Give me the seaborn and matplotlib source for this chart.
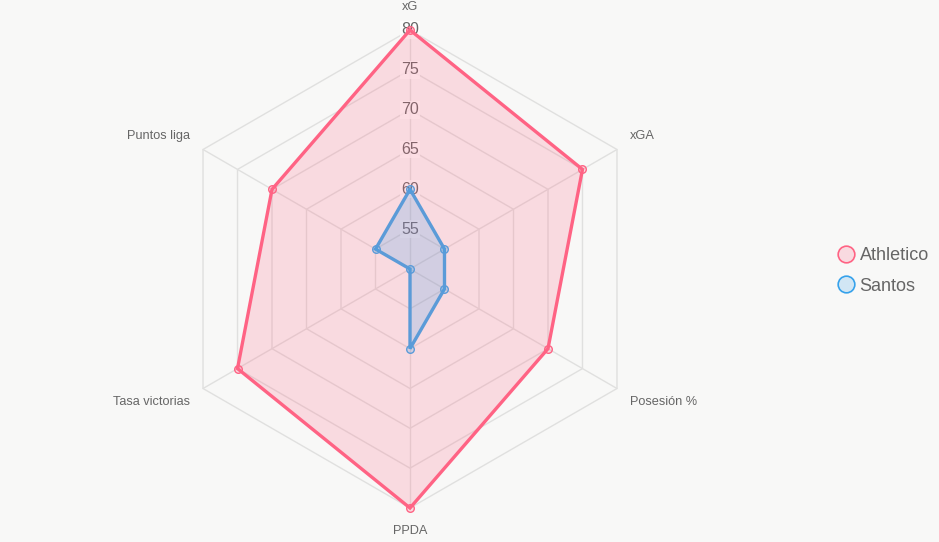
import numpy as np
import pandas as pd
import seaborn as sns
import matplotlib.pyplot as plt
from matplotlib.lines import Line2D
from matplotlib.colors import to_rgba

categories = ["xG", "xGA", "Posesión %", "PPDA", "Tasa victorias", "Puntos liga"]
athletico = [80, 75, 70, 80, 75, 70]
santos = [60, 55, 55, 60, 50, 55]
tick_values = [55, 60, 65, 70, 75, 80]
series_names = ["Athletico", "Santos"]
r_min, r_max = 50, 80

bg = "#f8f8f7"
red = "#ff6384"
blue_line = "#5b9bd8"
blue_legend = "#36a2eb"
txt = "#666666"
grid = "#e0e0df"

sns.set_theme(style="white")
plt.rcParams['font.family'] = ['Liberation Sans', 'DejaVu Sans']

W, H = 939, 542
cx, cy, R = 410, 269, 239
fig = plt.figure(figsize=(W / 100, H / 100), dpi=100, facecolor=bg)
ax = fig.add_axes([0, 0, 1, 1])
ax.set_facecolor(bg)
ax.set_xlim(-cx / R, (W - cx) / R)
ax.set_ylim(-(H - cy) / R, cy / R)
ax.axis('off')

n = len(categories)
theta = np.arange(n) * 2 * np.pi / n


def to_xy(vals):
    r = (np.asarray(vals, dtype=float) - r_min) / (r_max - r_min)
    return r * np.sin(theta), r * np.cos(theta)


# grid rings
for t in tick_values:
    gx, gy = to_xy([t] * n)
    ax.plot(np.append(gx, gx[0]), np.append(gy, gy[0]), color=grid, lw=1, zorder=1)
# angle lines
ox, oy = to_xy([r_max] * n)
for x, y in zip(ox, oy):
    ax.plot([0, x], [0, y], color=grid, lw=1, zorder=1)

# tick labels
for t in tick_values:
    r = (t - r_min) / (r_max - r_min)
    ax.text(0, r, str(t), ha='center', va='center', fontsize=11.5, color=txt, zorder=2,
            bbox=dict(facecolor='white', alpha=0.75, edgecolor='none', pad=1.0))

# point labels
for i, (cat, th) in enumerate(zip(categories, theta)):
    s, c = np.sin(th), np.cos(th)
    if abs(s) < 1e-6:
        off = 17 / R
        ha = 'center'
    else:
        off = 15 / R
        ha = 'left' if s > 0 else 'right'
    va = 'bottom' if c > 1e-6 else ('top' if c < -1e-6 else 'center')
    rr = 1 + off
    ax.text(rr * s, rr * c, cat, ha=ha, va=va, fontsize=9.2, color=txt, zorder=2)

# data
rows = []
for name, vals in zip(series_names, [athletico, santos]):
    for cat, v in zip(categories, vals):
        rows.append({"serie": name, "categoria": cat, "valor": v})
df = pd.DataFrame(rows)

colors = {"Athletico": red, "Santos": blue_line}
fills = {"Athletico": to_rgba(red, 0.2), "Santos": to_rgba(blue_legend, 0.2)}
for z, name in enumerate(series_names):
    vals = df[df.serie == name]["valor"].values
    x, y = to_xy(vals)
    ax.fill(x, y, color=fills[name], lw=0, zorder=3 + 2 * z)
    ax.plot(np.append(x, x[0]), np.append(y, y[0]), color=colors[name], lw=2.4,
            zorder=3.5 + 2 * z, solid_joinstyle='miter')
    sns.scatterplot(x=x, y=y, ax=ax, s=30, facecolor=fills[name],
                    edgecolor=colors[name], linewidth=1.0, zorder=4 + 2 * z, legend=False)

handles = [
    Line2D([], [], marker='o', ls='none', markersize=12, mfc=to_rgba(red, 0.2),
           mec=red, mew=1.2),
    Line2D([], [], marker='o', ls='none', markersize=12, mfc=to_rgba(blue_legend, 0.2),
           mec=blue_legend, mew=1.2),
]
fig.legend(handles, series_names, loc='center left', bbox_to_anchor=(828 / W, 1 - 271 / H),
           frameon=False, fontsize=13, labelcolor=txt, handlelength=1.0,
           handletextpad=0.25, labelspacing=0.75, borderpad=0)

fig.savefig("out.png", dpi=100, facecolor=bg)
